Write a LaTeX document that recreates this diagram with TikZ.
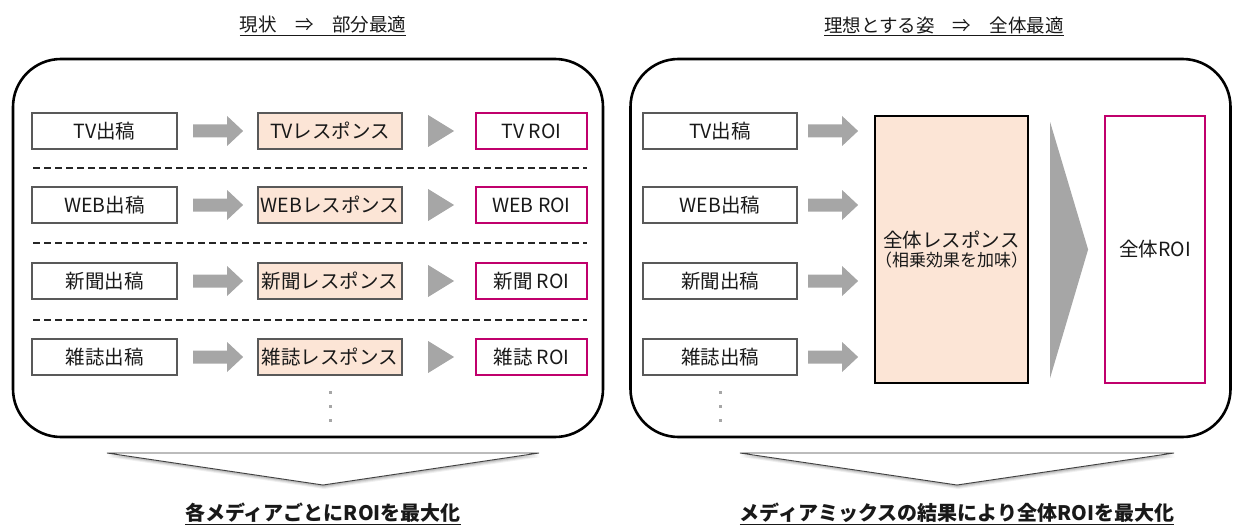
\documentclass[tikz,border=0pt]{standalone}
\usepackage{fontspec}
\setmainfont{Noto Sans CJK JP}
\usetikzlibrary{calc}
\definecolor{boxgray}{RGB}{89,89,89}
\definecolor{peach}{RGB}{252,229,214}
\definecolor{roicol}{RGB}{192,0,108}
\definecolor{agray}{RGB}{166,166,166}
\definecolor{txt}{RGB}{25,25,25}
\tikzset{
  frame/.style={draw=black, line width=2.6pt, rounded corners=48pt},
  inbox/.style={draw=boxgray, line width=2.2pt, fill=white, minimum height=36pt, text=txt, inner sep=0pt, font=\fontsize{19.5}{22}\selectfont},
  resbox/.style={inbox, fill=peach},
  roibox/.style={inbox, draw=roicol},
  dashline/.style={line width=2pt, dash pattern=on 7pt off 4pt, draw=black!85},
  title/.style={text=txt, font=\fontsize{18.5}{21}\selectfont},
  bottomtext/.style={text=txt, font=\bfseries\fontsize{20}{24}\selectfont},
  chev/.style={fill=white, draw=black!75, line width=0.9pt},
  chevshadow/.style={fill=black, opacity=0.18},
  blockarr/.pic={\fill[agray] (0,-6.5) -- (34,-6.5) -- (34,-15) -- (50,0) -- (34,15) -- (34,6.5) -- (0,6.5) -- cycle;},
  tri/.pic={\fill[agray] (0,-16) -- (26,0) -- (0,16) -- cycle;},
}
\begin{document}
\begin{tikzpicture}[x=1pt,y=-1pt]
\useasboundingbox (0,0) rectangle (1234,532);

% titles
\node[title] (t1) at (323,26) {\underline{現状\quad ⇒\quad 部分最適}};
\node[title] (t2) at (944,26) {\underline{理想とする姿\quad ⇒\quad 全体最適}};

% frames
\node[frame, minimum width=590pt, minimum height=378pt] (lf) at (308,248) {};
\node[frame, minimum width=600pt, minimum height=378pt] (rf) at (930.5,248) {};

% ---------- left panel ----------
\foreach \n/\a/\b/\c/\y in {1/TV出稿/TVレスポンス/TV ROI/131, 2/WEB出稿/WEBレスポンス/WEB ROI/205, 3/新聞出稿/新聞レスポンス/新聞 ROI/281, 4/雑誌出稿/雑誌レスポンス/雑誌 ROI/357}{
  \node[inbox, minimum width=145pt] (la\n) at (104.5,\y) {\a};
  \node[resbox, minimum width=144pt] (lb\n) at (330,\y) {\b};
  \node[roibox, minimum width=111pt] (lc\n) at (531.5,\y) {\c};
  \pic at ($(la\n.east)+(15,0)$) {blockarr};
  \pic at ($(lb\n.east)+(25,0)$) {tri};
}
\draw[dashline] (33,168) -- (587,168);
\draw[dashline] (33,243) -- (587,243);
\draw[dashline] (33,320) -- (587,320);
\foreach \yy in {392,406,420}{\fill[agray] (328.5,\yy-1.5) rectangle (331.5,\yy+1.5);}

% ---------- right panel ----------
\foreach \n/\a/\y in {1/TV出稿/131, 2/WEB出稿/205, 3/新聞出稿/281, 4/雑誌出稿/357}{
  \node[inbox, minimum width=154pt] (ra\n) at (720,\y) {\a};
  \pic at ($(ra\n.east)+(10,0)$) {blockarr};
}
\node[resbox, draw=black, minimum width=149pt, minimum height=267pt, align=center] (rb) at (951.5,249.5)
  {全体レスポンス\\[-3pt]{\fontsize{17}{20}\selectfont （相乗効果を加味）}};
\node[roibox, minimum width=100pt, minimum height=267pt] (rc) at (1155,249.5) {全体ROI};
\fill[agray] ($(rb.east)+(21,-127.5)$) -- ($(rb.east)+(59,0)$) -- ($(rb.east)+(21,128.5)$) -- cycle;
\foreach \yy in {392,406,420}{\fill[agray] (718.5,\yy-1.5) rectangle (721.5,\yy+1.5);}

% ---------- bottom chevrons and texts ----------
\foreach \dy/\op in {1/0.10, 2/0.10, 3/0.08, 4/0.06}{
  \fill[black, opacity=\op] (107+\dy*0.3,453+\dy) -- (539+\dy*0.3,453+\dy) -- (323+\dy*0.3,485+\dy) -- cycle;
  \fill[black, opacity=\op] (740+\dy*0.3,453+\dy) -- (1174+\dy*0.3,453+\dy) -- (957+\dy*0.3,485+\dy) -- cycle;
}
\filldraw[chev] (107,453) -- (539,453) -- (323,485) -- cycle;
\filldraw[chev] (740,453) -- (1174,453) -- (957,485) -- cycle;
\node[bottomtext] (b1) at (323,514) {\underline{各メディアごとにROIを最大化}};
\node[bottomtext] (b2) at (957,514) {\underline{メディアミックスの結果により全体ROIを最大化}};
\end{tikzpicture}
\end{document}
